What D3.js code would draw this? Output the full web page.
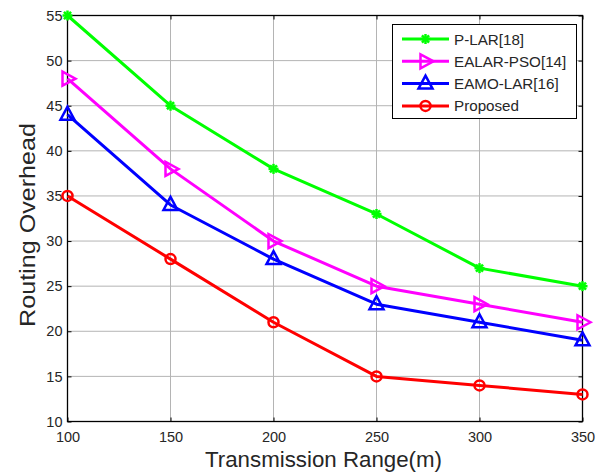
<!DOCTYPE html>
<html>
<head>
<meta charset="utf-8">
<script src="https://d3js.org/d3.v7.min.js"></script>
<style>
body { margin: 0; background: #fff; }
text { font-family: "Liberation Sans", Arial, sans-serif; fill: #262626; }
.grid line { stroke: #b4b4b4; stroke-width: 1; }
</style>
</head>
<body>
<svg id="chart" width="603" height="472"></svg>
<script>
var ranges = [100, 150, 200, 250, 300, 350];
var yTicks = [10, 15, 20, 25, 30, 35, 40, 45, 50, 55];
var seriesNames = ["P-LAR[18]", "EALAR-PSO[14]", "EAMO-LAR[16]", "Proposed"];
var pLar = [55, 45, 38, 33, 27, 25];
var ealarPso = [48, 38, 30, 25, 23, 21];
var eamoLar = [44, 34, 28, 23, 21, 19];
var proposed = [35, 28, 21, 15, 14, 13];

var series = [
  { name: seriesNames[0], values: pLar, color: "#00ff00", marker: "star" },
  { name: seriesNames[1], values: ealarPso, color: "#ff00ff", marker: "triright" },
  { name: seriesNames[2], values: eamoLar, color: "#0000ff", marker: "triup" },
  { name: seriesNames[3], values: proposed, color: "#ff0000", marker: "circle" }
];

var pl = 67.5, pr = 582.5, pt = 15.5, pb = 421.5;
var svg = d3.select("#chart");

var x = d3.scaleLinear().domain([100, 350]).range([pl, pr]);
var y = d3.scaleLinear().domain([10, 55]).range([pb, pt]);

// grid
var grid = svg.append("g").attr("class", "grid");
grid.selectAll("line.v").data(ranges.slice(1, -1)).enter().append("line")
  .attr("x1", d => x(d)).attr("x2", d => x(d)).attr("y1", pt).attr("y2", pb);
grid.selectAll("line.h").data(yTicks.slice(1, -1)).enter().append("line")
  .attr("x1", pl).attr("x2", pr).attr("y1", d => y(d)).attr("y2", d => y(d));

// axes with inward ticks
var xb = svg.append("g").attr("transform", "translate(0," + pb + ")")
  .call(d3.axisBottom(x).tickValues(ranges).tickSize(-4).tickPadding(10));
var xt = svg.append("g").attr("transform", "translate(0," + pt + ")")
  .call(d3.axisTop(x).tickValues(ranges).tickSize(-4).tickFormat(""));
var yl = svg.append("g").attr("transform", "translate(" + pl + ",0)")
  .call(d3.axisLeft(y).tickValues(yTicks).tickSize(-4).tickPadding(5));
var yr = svg.append("g").attr("transform", "translate(" + pr + ",0)")
  .call(d3.axisRight(y).tickValues(yTicks).tickSize(-4).tickFormat(""));
[xb, xt, yl, yr].forEach(function(a) {
  a.select(".domain").remove();
  a.selectAll(".tick line").attr("stroke", "#000");
  a.selectAll("text").style("font-size", "14.5px").attr("fill", "#262626");
});
svg.append("rect").attr("x", pl).attr("y", pt)
  .attr("width", pr - pl).attr("height", pb - pt)
  .attr("fill", "none").attr("stroke", "#000").attr("stroke-width", 1.3);

function drawMarker(g, type, color, cx, cy) {
  if (type === "star") {
    var r = 5;
    for (var i = 0; i < 4; i++) {
      var a = i * Math.PI / 4;
      g.append("line").attr("x1", cx - r * Math.cos(a)).attr("y1", cy - r * Math.sin(a))
        .attr("x2", cx + r * Math.cos(a)).attr("y2", cy + r * Math.sin(a))
        .attr("stroke", color).attr("stroke-width", 2.5);
    }
  } else if (type === "triright") {
    g.append("path").attr("d", "M" + (cx - 5) + "," + (cy - 7) + "L" + (cx + 8) + "," + cy + "L" + (cx - 5) + "," + (cy + 7) + "Z")
      .attr("fill", "none").attr("stroke", color).attr("stroke-width", 2.5);
  } else if (type === "triup") {
    g.append("path").attr("d", "M" + cx + "," + (cy - 8) + "L" + (cx + 7) + "," + (cy + 5) + "L" + (cx - 7) + "," + (cy + 5) + "Z")
      .attr("fill", "none").attr("stroke", color).attr("stroke-width", 2.5);
  } else {
    g.append("circle").attr("cx", cx).attr("cy", cy).attr("r", 5)
      .attr("fill", "none").attr("stroke", color).attr("stroke-width", 2.5);
  }
}

var line = d3.line().x((d, i) => x(ranges[i])).y(d => y(d));
series.forEach(function(s) {
  var g = svg.append("g");
  g.append("path").datum(s.values).attr("d", line)
    .attr("fill", "none").attr("stroke", s.color).attr("stroke-width", 3).attr("stroke-linejoin", "round");
  s.values.forEach(function(v, i) { drawMarker(g, s.marker, s.color, x(ranges[i]), y(v)); });
});

// legend
var lg = svg.append("g");
lg.append("rect").attr("x", 392.5).attr("y", 24.5).attr("width", 184).attr("height", 94)
  .attr("fill", "#fff").attr("stroke", "#000").attr("stroke-width", 1);
series.forEach(function(s, i) {
  var yy = 39 + i * 22.3;
  lg.append("line").attr("x1", 402).attr("x2", 449).attr("y1", yy).attr("y2", yy)
    .attr("stroke", s.color).attr("stroke-width", 3);
  drawMarker(lg, s.marker, s.color, 425.5, yy);
  lg.append("text").attr("x", 454).attr("y", yy + 5.5).style("font-size", "15.2px").attr("fill", "#000").text(s.name);
});

// axis titles
svg.append("text").attr("x", 323.5).attr("y", 467).attr("text-anchor", "middle")
  .style("font-size", "22px").attr("fill", "#000")
  .attr("textLength", 237).attr("lengthAdjust", "spacingAndGlyphs")
  .text("Transmission Range(m)");
svg.append("text").attr("transform", "translate(35,225) rotate(-90)")
  .attr("text-anchor", "middle").style("font-size", "21.5px").attr("fill", "#000")
  .attr("textLength", 204).attr("lengthAdjust", "spacingAndGlyphs")
  .text("Routing Overhead");
</script>
</body>
</html>
